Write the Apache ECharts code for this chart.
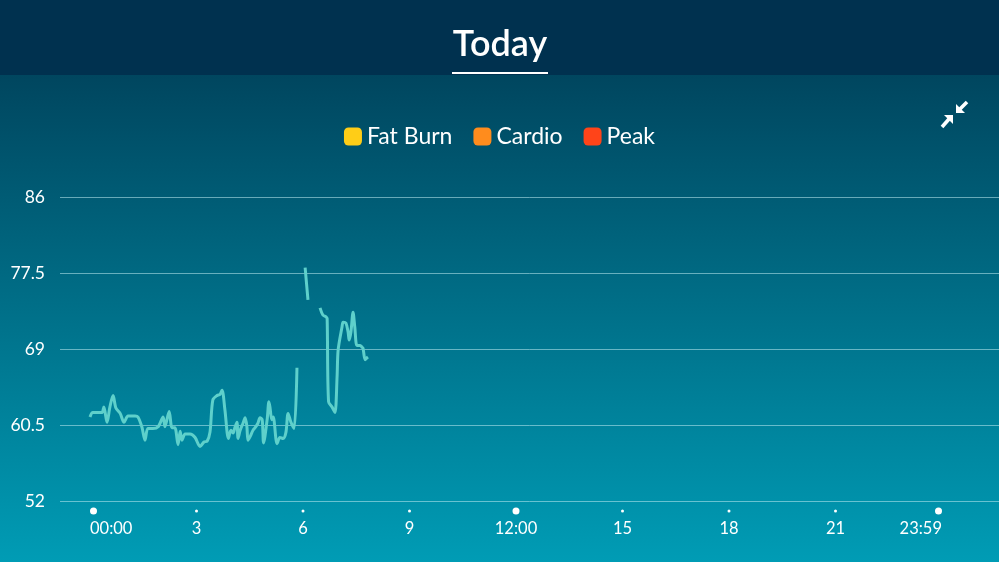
<!DOCTYPE html>
<html>
<head>
<meta charset="utf-8">
<script src="https://cdn.jsdelivr.net/npm/echarts@6/dist/echarts.min.js"></script>
<style>html,body{margin:0;padding:0;background:#00465f;}#c{width:999px;height:562px;}</style>
</head>
<body>
<div id="c"></div>
<script>
// ---- data ----
const hours = [0.00,0.08,0.23,0.34,0.39,0.48,0.56,0.65,0.73,0.85,0.96,1.07,1.27,1.35,1.46,1.55,1.63,1.77,1.92,2.06,2.11,2.23,2.31,2.39,2.48,2.54,2.59,2.68,2.82,2.96,3.10,3.21,3.30,3.38,3.46,3.58,3.66,3.72,3.80,3.90,3.97,4.03,4.08,4.14,4.17,4.23,4.31,4.37,4.42,4.45,4.51,4.59,4.65,4.73,4.79,4.85,4.89,4.99,5.04,5.07,5.12,5.16,5.27,5.35,5.44,5.52,5.58,5.66,5.75,5.83,5.95,6.06,6.14,6.30,6.48,6.56,6.65,6.68,6.72,6.82,6.90,6.96,6.99,7.10,7.13,7.21,7.27,7.30,7.35,7.41,7.46,7.52,7.61,7.66,7.69,7.75,7.80,7.83];
const bpm = [61.4,61.9,61.9,61.9,62.5,60.8,62.5,63.8,62.4,61.8,60.8,61.5,61.5,61.4,60.3,58.8,60.1,60.1,60.3,61.4,60.3,62.0,60.2,60.2,58.3,59.8,58.8,59.5,59.5,59.1,58.1,58.6,58.7,59.7,63.3,63.8,63.9,64.4,62.2,59.0,59.9,59.6,60.2,60.8,59.0,59.9,60.7,61.3,60.3,58.8,59.2,59.9,60.2,60.7,61.3,61.1,58.5,61.1,63.1,62.5,61.1,61.4,58.4,59.1,59.0,59.7,61.8,60.8,60.1,66.9,null,78.1,74.5,null,73.6,72.8,72.6,72.4,63.1,62.5,61.9,65.9,68.9,71.5,72.0,71.9,70.9,70.0,70.9,73.1,71.4,69.4,69.4,69.2,69.1,67.8,68.0,68.1];
const yTicks = [52, 60.5, 69, 77.5, 86];
const xTickHours = [0, 3, 6, 9, 12, 15, 18, 21, 24];
const xTickLabels = ['00:00', '3', '6', '9', '12:00', '15', '18', '21', '23:59'];
const majorTicks = ['00:00', '12:00', '23:59'];
const legendNames = ['Fat Burn', 'Cardio', 'Peak'];
const legendColors = ['#ffcd17', '#ff8c1d', '#ff4419'];
const titleText = 'Today';

// ---- chart ----
const FONT = 'Lato, "Open Sans", sans-serif';
const chart = echarts.init(document.getElementById('c'), null, {renderer: 'canvas'});
const lineData = hours.map((h, i) => [h, bpm[i] === null ? '-' : bpm[i]]);

const series = [{
  type: 'line',
  name: 'Heart rate',
  xAxisIndex: 1, yAxisIndex: 1,
  data: lineData,
  showSymbol: false,
  smooth: 0.3,
  connectNulls: false,
  lineStyle: {color: '#5ed0cb', width: 3},
  itemStyle: {color: '#5ed0cb'},
  z: 5
}];
legendNames.forEach((n, i) => series.push({
  type: 'bar', name: n, xAxisIndex: 1, yAxisIndex: 1, data: [],
  itemStyle: {color: legendColors[i]}
}));

chart.setOption({
  animation: false,
  backgroundColor: 'transparent',
  graphic: [
    {type: 'rect', z: -10, shape: {x: 0, y: 75, width: 999, height: 487},
     style: {fill: new echarts.graphic.LinearGradient(0, 0, 0, 1, [
       {offset: 0, color: '#00465f'}, {offset: 1, color: '#009cb5'}])}},
    {type: 'rect', z: -10, shape: {x: 0, y: 0, width: 999, height: 75}, style: {fill: '#00314f'}},
    {type: 'text', x: 500, y: 44, style: {text: titleText, fill: '#fff', font: '600 36px ' + FONT, textAlign: 'center', textVerticalAlign: 'middle'}},
    {type: 'rect', shape: {x: 452, y: 72, width: 96, height: 2}, style: {fill: '#ffffff'}},
    // compress icon
    {type: 'polygon', shape: {points: [[953, 115], [944, 115], [953, 124]]}, style: {fill: '#fff'}},
    {type: 'line', shape: {x1: 949, y1: 119, x2: 942, y2: 127}, style: {stroke: '#fff', lineWidth: 3.5}},
    {type: 'polygon', shape: {points: [[956, 113], [965, 113], [956, 104]]}, style: {fill: '#fff'}},
    {type: 'line', shape: {x1: 960, y1: 109, x2: 967, y2: 102}, style: {stroke: '#fff', lineWidth: 3.5}}
  ],
  legend: {
    data: legendNames,
    top: 120, left: 'center',
    icon: 'roundRect', itemWidth: 18, itemHeight: 18, itemGap: 21, itemTextGap: 8,
    textStyle: {color: '#fff', fontSize: 23, fontFamily: FONT},
    selectedMode: false
  },
  grid: [
    {left: 60, right: 0, top: 197, height: 304},
    {left: 90, width: 852, top: 197, height: 304}
  ],
  xAxis: [
    {gridIndex: 0, type: 'value', min: 0, max: 1, show: false},
    {gridIndex: 1, type: 'value', min: 0, max: 24, interval: 3,
     axisLine: {show: false}, axisTick: {show: false}, splitLine: {show: false},
     axisLabel: {
       margin: 3, alignMinLabel: 'left', alignMaxLabel: 'right',
       formatter: v => {
         const i = xTickHours.indexOf(v);
         if (i < 0) return '';
         const lab = xTickLabels[i];
         return (majorTicks.indexOf(lab) >= 0 ? '{D| }' : '{d| }') + '\n{t|' + lab + '}';
       },
       rich: {
         D: {width: 7, height: 7, backgroundColor: '#fff', borderRadius: 4, lineHeight: 14, fontSize: 1},
         d: {width: 3, height: 3, backgroundColor: '#fff', borderRadius: 2, lineHeight: 14, fontSize: 1},
         t: {fontSize: 16.5, color: '#fff', lineHeight: 22, fontFamily: FONT}
       }
     }}
  ],
  yAxis: [
    {gridIndex: 0, type: 'value', min: 52, max: 86,
     axisLine: {show: false},
     axisTick: {show: false, customValues: yTicks},
     axisLabel: {customValues: yTicks, color: '#fff', fontSize: 17.5, margin: 15, fontFamily: FONT},
     splitLine: {show: true, lineStyle: {color: 'rgba(190,235,240,0.55)', width: 1}}},
    {gridIndex: 1, type: 'value', min: 52, max: 86, show: false, splitLine: {show: false}}
  ],
  series: series
});
</script>
</body>
</html>
